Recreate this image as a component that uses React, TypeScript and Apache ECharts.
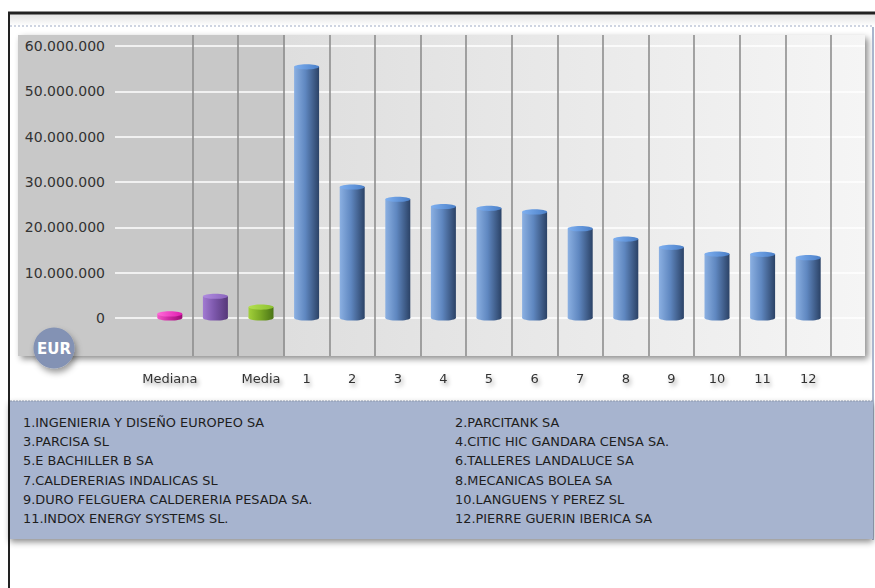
import React, { useEffect, useRef } from "react";
import * as echarts from "echarts";

// Axis categories: two summary statistics (one unlabelled) followed by the ranked companies
const categories = ["Mediana", "", "Media", "1", "2", "3", "4", "5", "6", "7", "8", "9", "10", "11", "12"];

// Summary bars (Mediana, unlabelled, Media), in EUR
const summaryValues = [900000, 4800000, 2400000];

// Ranked company values, in EUR
const companyValues = [
  55400000, 28900000, 26200000, 24600000, 24200000, 23400000,
  19700000, 17400000, 15600000, 14100000, 14050000, 13300000,
];

const companyNames = [
  "1.INGENIERIA Y DISEÑO EUROPEO SA",
  "2.PARCITANK SA",
  "3.PARCISA SL",
  "4.CITIC HIC GANDARA CENSA SA.",
  "5.E BACHILLER B SA",
  "6.TALLERES LANDALUCE SA",
  "7.CALDERERIAS INDALICAS SL",
  "8.MECANICAS BOLEA SA",
  "9.DURO FELGUERA CALDERERIA PESADA SA.",
  "10.LANGUENS Y PEREZ SL",
  "11.INDOX ENERGY SYSTEMS SL.",
  "12.PIERRE GUERIN IBERICA SA",
];

const Y_MIN = 0;
const Y_MAX = 60000000;
const Y_STEP = 10000000;

const W = 875;
const H = 588;
const FONT = "DejaVu Sans, Verdana, sans-serif";

// Panel and plot geometry (pixels)
const PANEL = { left: 18, top: 35, right: 865, bottom: 356 };
const VALUE_AREA = { left: 115, right: 865, top: 46, bottom: 318 };
const BAR_AREA = { left: 147, right: 831 };

const pxPerUnit = (VALUE_AREA.bottom - VALUE_AREA.top) / (Y_MAX - Y_MIN);
const barAxisMin = Y_MIN - (PANEL.bottom - VALUE_AREA.bottom) / pxPerUnit;
const barAxisMax = Y_MAX + (VALUE_AREA.top - PANEL.top) / pxPerUnit;

type Palette = { light: string; mid: string; dark: string; capA: string; capB: string };
const BLUE: Palette = { light: "#8bb0e2", mid: "#5f87c0", dark: "#2b4266", capA: "#7fb0f0", capB: "#4a7fc8" };
const STAT_PALETTES: Palette[] = [
  { light: "#f25ac8", mid: "#d02aa4", dark: "#9a0a74", capA: "#ff6ad8", capB: "#e01cb0" },
  { light: "#a27ad2", mid: "#7d58ac", dark: "#563779", capA: "#b08ce0", capB: "#8a64bc" },
  { light: "#a2d03a", mid: "#7cab26", dark: "#4a7416", capA: "#b4e050", capB: "#8cc030" },
];

function formatThousands(v: number): string {
  return Math.round(v).toString().replace(/\B(?=(\d{3})+(?!\d))/g, ".");
}

const barData = [
  ...summaryValues.map((v, i) => [i, v]),
  ...companyValues.map((v, i) => [summaryValues.length + i, v]),
];

export default function App() {
  const ref = useRef<HTMLDivElement | null>(null);

  useEffect(() => {
    if (!ref.current) return;
    const chart = echarts.init(ref.current, undefined, { renderer: "svg" });

    const panelWidth = PANEL.right - PANEL.left;
    const splitAt = (285 - PANEL.left) / panelWidth;

    const legendTexts: any[] = companyNames.map((name, i) => ({
      type: "text",
      left: i % 2 === 0 ? 23 : 455,
      top: 416 + Math.floor(i / 2) * 19.2,
      z: 20,
      style: { text: name, fill: "#1e1e1e", font: `12.9px ${FONT}` },
    }));

    const option: any = {
      animation: false,
      backgroundColor: "#ffffff",
      grid: [
        {
          // chart panel
          left: PANEL.left,
          top: PANEL.top,
          width: panelWidth,
          height: PANEL.bottom - PANEL.top,
          show: true,
          borderWidth: 0,
          backgroundColor: new echarts.graphic.LinearGradient(0, 0, 1, 0, [
            { offset: 0, color: "#c8c8c8" },
            { offset: splitAt, color: "#c8c8c8" },
            { offset: splitAt, color: "#dedede" },
            { offset: 1, color: "#f5f5f5" },
          ]),
          shadowColor: "rgba(0,0,0,0.45)",
          shadowBlur: 6,
          shadowOffsetX: 3,
          shadowOffsetY: 3,
        },
        {
          // value scale and horizontal guide lines
          left: VALUE_AREA.left,
          top: VALUE_AREA.top,
          width: VALUE_AREA.right - VALUE_AREA.left,
          height: VALUE_AREA.bottom - VALUE_AREA.top,
          show: false,
        },
        {
          // bars and column separators
          left: BAR_AREA.left,
          top: PANEL.top,
          width: BAR_AREA.right - BAR_AREA.left,
          height: PANEL.bottom - PANEL.top,
          show: false,
        },
      ],
      xAxis: [
        { gridIndex: 0, type: "value", show: false, min: 0, max: 1 },
        { gridIndex: 1, type: "value", show: false, min: 0, max: 1 },
        {
          gridIndex: 2,
          type: "category",
          data: categories,
          boundaryGap: true,
          axisLine: { show: false },
          axisTick: { show: false },
          axisLabel: {
            interval: 0,
            margin: 16,
            color: "#333333",
            fontFamily: FONT,
            fontSize: 13,
            textShadowColor: "rgba(0,0,0,0.35)",
            textShadowBlur: 4,
            textShadowOffsetX: 2,
            textShadowOffsetY: 3,
          },
          splitLine: {
            show: true,
            interval: (index: number) => index !== 0,
            lineStyle: { color: "#8e8e8e", width: 1.6 },
          },
        },
      ],
      yAxis: [
        { gridIndex: 0, type: "value", show: false, min: 0, max: 1 },
        {
          gridIndex: 1,
          type: "value",
          min: Y_MIN,
          max: Y_MAX,
          interval: Y_STEP,
          axisLine: { show: false },
          axisTick: { show: false },
          axisLabel: {
            margin: 10,
            color: "#333333",
            fontFamily: FONT,
            fontSize: 14,
            formatter: (v: number) => formatThousands(v),
          },
          splitLine: { show: true, lineStyle: { color: "#ffffff", width: 1.5 } },
        },
        {
          gridIndex: 2,
          type: "value",
          min: barAxisMin,
          max: barAxisMax,
          show: false,
          splitLine: { show: false },
        },
      ],
      series: [
        {
          type: "custom",
          xAxisIndex: 2,
          yAxisIndex: 2,
          z: 5,
          data: barData,
          encode: { x: 0, y: 1 },
          renderItem: (params: any, api: any) => {
            const idx = api.value(0);
            const v = api.value(1);
            const top = api.coord([idx, v]);
            const base = api.coord([idx, 0]);
            const pal = idx < STAT_PALETTES.length ? STAT_PALETTES[idx] : BLUE;
            const w = 25;
            const ry = 2.6;
            const body = new echarts.graphic.LinearGradient(0, 0, 1, 0, [
              { offset: 0, color: pal.light },
              { offset: 0.45, color: pal.mid },
              { offset: 1, color: pal.dark },
            ]);
            const cap = new echarts.graphic.LinearGradient(0, 0, 1, 0, [
              { offset: 0, color: pal.capA },
              { offset: 1, color: pal.capB },
            ]);
            return {
              type: "group",
              children: [
                {
                  type: "ellipse",
                  shape: { cx: top[0], cy: base[1], rx: w / 2, ry },
                  style: { fill: body },
                },
                {
                  type: "rect",
                  shape: { x: top[0] - w / 2, y: top[1], width: w, height: base[1] - top[1] },
                  style: { fill: body },
                },
                {
                  type: "ellipse",
                  shape: { cx: top[0], cy: top[1], rx: w / 2, ry },
                  style: { fill: cap },
                },
              ],
            };
          },
        },
      ],
      graphic: [
        // frame: dark top and left rules
        {
          type: "rect",
          shape: { x: 8, y: 14, width: W - 8, height: 12 },
          z: 1,
          style: {
            fill: new echarts.graphic.LinearGradient(0, 0, 0, 1, [
              { offset: 0, color: "#e2e2e2" },
              { offset: 1, color: "#ffffff" },
            ]),
          },
        },
        {
          type: "line",
          shape: { x1: 8, y1: 13, x2: W, y2: 13 },
          z: 2,
          style: { stroke: "#222222", lineWidth: 3 },
        },
        {
          type: "line",
          shape: { x1: 9, y1: 12, x2: 9, y2: H },
          z: 2,
          style: { stroke: "#222222", lineWidth: 2 },
        },
        {
          type: "line",
          shape: { x1: 10, y1: 26, x2: 873, y2: 26 },
          z: 2,
          style: { stroke: "#9eaac4", lineWidth: 1, lineDash: [2, 2] },
        },
        {
          type: "line",
          shape: { x1: 873, y1: 27, x2: 873, y2: 540 },
          z: 2,
          style: { stroke: "#a9b5cd", lineWidth: 2 },
        },
        // company key box
        {
          type: "rect",
          shape: { x: 10, y: 401, width: 863, height: 138 },
          z: 3,
          style: {
            fill: "#a7b4cf",
            shadowColor: "rgba(0,0,0,0.45)",
            shadowBlur: 6,
            shadowOffsetY: 3,
          },
        },
        {
          type: "line",
          shape: { x1: 10, y1: 401, x2: 873, y2: 401 },
          z: 4,
          style: { stroke: "#8e98ac", lineWidth: 1, lineDash: [2, 1] },
        },
        ...legendTexts,
        // currency badge
        {
          type: "circle",
          shape: { cx: 54, cy: 348, r: 20.5 },
          z: 30,
          style: {
            fill: "#8392b4",
            shadowColor: "rgba(0,0,0,0.4)",
            shadowBlur: 6,
            shadowOffsetX: 2,
            shadowOffsetY: 4,
          },
        },
        {
          type: "text",
          x: 54,
          y: 349,
          z: 31,
          style: {
            text: "EUR",
            fill: "#ffffff",
            font: `bold 15px ${FONT}`,
            textAlign: "center",
            textVerticalAlign: "middle",
          },
        },
      ],
    };

    chart.setOption(option);
    return () => chart.dispose();
  }, []);

  return (
    <div
      ref={ref}
      style={{ position: "absolute", left: 0, top: 0, width: W, height: H }}
    />
  );
}
